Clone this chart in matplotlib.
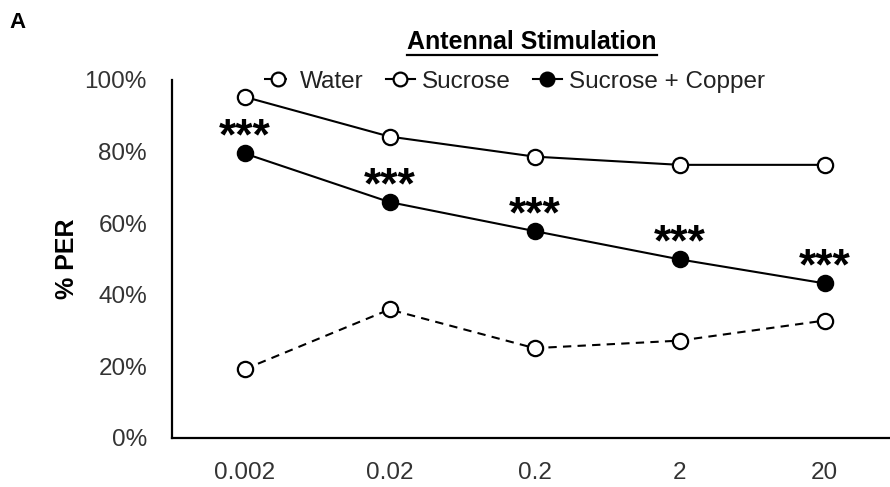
import matplotlib
matplotlib.use("Agg")
import matplotlib.pyplot as plt
from matplotlib.legend_handler import HandlerLine2D
import numpy as np

plt.rcParams["font.family"] = ["Liberation Sans", "DejaVu Sans"]

concs = ["0.002", "0.02", "0.2", "2", "20"]
water = [19.2, 35.9, 25.1, 27.2, 32.8]
sucrose = [95.3, 84.2, 78.6, 76.3, 76.3]
copper = [79.5, 65.9, 57.8, 49.9, 43.2]
stars = ["***"] * 5


class MarkerRight(HandlerLine2D):
    # Excel-style legend key: short line with the marker towards the right
    def get_xdata(self, legend, xdescent, ydescent, width, height, fontsize):
        xdata = np.array([-xdescent, -xdescent + width])
        return xdata, np.array([-xdescent + width * 0.72])


fig = plt.figure(figsize=(8.9, 4.87), dpi=100)
ax = fig.add_axes([172 / 890, 1 - 438 / 487, 718 / 890, 358 / 487])
x = np.arange(len(concs))

ms = 11
ax.plot(x, water, "--", color="black", lw=1.5, marker="o", ms=ms,
        mfc="white", mec="black", mew=1.6, dashes=(4, 3), label="Water")
ax.plot(x, sucrose, "-", color="black", lw=1.5, marker="o", ms=ms,
        mfc="white", mec="black", mew=1.6, label="Sucrose")
ax.plot(x, copper, "-", color="black", lw=1.5, marker="o", ms=ms,
        mfc="black", mec="black", mew=1.6, label="Sucrose + Copper")

for xi, yi, s in zip(x, copper, stars):
    ax.annotate(s, (xi, yi), xytext=(0, 3), textcoords="offset points",
                ha="center", va="baseline", fontsize=32, fontweight="bold")

ax.set_xlim(-0.5, -0.5 + 718 / 145)
ax.set_ylim(0, 100)
ax.set_yticks([0, 20, 40, 60, 80, 100])
ax.set_yticklabels([f"{v}%" for v in range(0, 101, 20)])
ax.set_xticks(x)
ax.set_xticklabels(concs)
ax.tick_params(length=0, labelsize=17.5, labelcolor="#333333")
ax.tick_params(axis="x", pad=17)
ax.tick_params(axis="y", pad=18)
for side in ("top", "right"):
    ax.spines[side].set_visible(False)
for side in ("left", "bottom"):
    ax.spines[side].set_linewidth(1.6)
ax.set_ylabel("% PER", fontsize=18, fontweight="bold", labelpad=4)

leg = ax.legend(loc="center left", bbox_to_anchor=(82 / 718, 0.995), ncol=3,
                frameon=False, fontsize=17.5, handlelength=1.2,
                handletextpad=0.3, columnspacing=0.9, borderaxespad=0,
                markerscale=0.9, handler_map={plt.Line2D: MarkerRight()})
for t in leg.get_texts():
    t.set_color("#222222")

title = fig.text(532 / 890, 1 - 42 / 487, "Antennal Stimulation", ha="center",
                 va="center", fontsize=18, fontweight="bold")
fig.canvas.draw()
bb = title.get_window_extent().transformed(fig.transFigure.inverted())
uy = 1 - 55 / 487
fig.add_artist(plt.Line2D([bb.x0, bb.x1], [uy, uy],
                          color="black", lw=1.6, transform=fig.transFigure))

fig.text(17 / 890, 1 - 22 / 487, "A", ha="center", va="center",
         fontsize=16, fontweight="bold")

fig.savefig("out.png", dpi=100)
